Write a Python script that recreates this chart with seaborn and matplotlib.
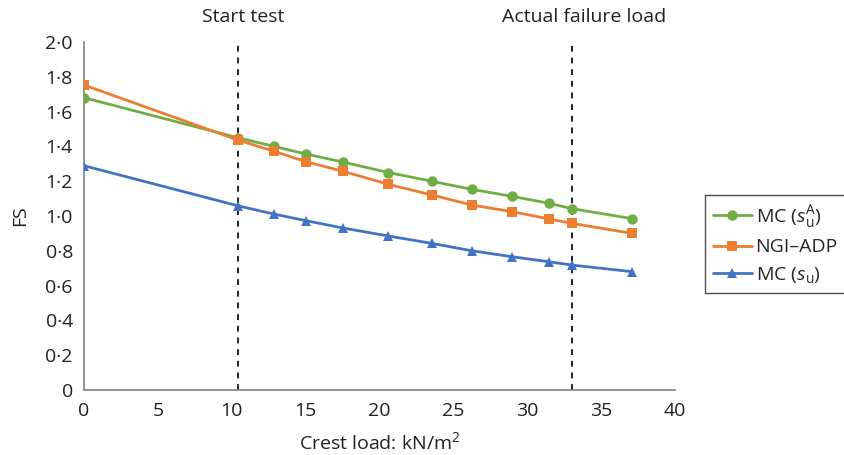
import matplotlib
matplotlib.use("Agg")
import matplotlib.pyplot as plt
import matplotlib.ticker as mticker
import pandas as pd
import seaborn as sns

# Crest load steps (kN/m2) and computed factors of safety
crest_load = [0, 10.4, 12.86, 15.03, 17.53, 20.6, 23.53, 26.26, 28.97, 31.47, 33.03, 37.09]
fs_mc_sua = [1.68, 1.45, 1.40, 1.356, 1.31, 1.25, 1.20, 1.153, 1.113, 1.073, 1.042, 0.985]
fs_ngi_adp = [1.753, 1.437, 1.372, 1.312, 1.257, 1.182, 1.121, 1.063, 1.025, 0.983, 0.958, 0.90]
fs_mc_su = [1.289, 1.059, 1.011, 0.973, 0.931, 0.885, 0.843, 0.80, 0.766, 0.737, 0.718, 0.68]

series_labels = [r"MC ($s_\mathregular{u}^\mathregular{A}$)", "NGI\u2013ADP", r"MC ($s_\mathregular{u}$)"]
series_colors = ["#70AD47", "#ED7D31", "#4472C4"]
series_markers = ["o", "s", "^"]

marker_lines = [10.4, 33.03]
marker_texts = ["Start test", "Actual failure load"]

x_ticks = [0, 5, 10, 15, 20, 25, 30, 35, 40]
y_ticks = [0, 0.2, 0.4, 0.6, 0.8, 1.0, 1.2, 1.4, 1.6, 1.8, 2.0]

sns.set_style("white")
plt.rcParams["font.family"] = ["Open Sans", "DejaVu Sans"]
plt.rcParams["mathtext.fontset"] = "custom"
plt.rcParams["mathtext.rm"] = "Open Sans"
plt.rcParams["mathtext.it"] = "Open Sans:italic"

df = pd.concat([
    pd.DataFrame({"load": crest_load, "fs": vals, "series": lab})
    for vals, lab in zip([fs_mc_sua, fs_ngi_adp, fs_mc_su], series_labels)
])

fig = plt.figure(figsize=(8.45, 4.55), dpi=100)
ax = fig.add_axes([84 / 845, 1 - 390 / 455, (675 - 84) / 845, (390 - 42) / 455])

for lab, col, mk in zip(series_labels, series_colors, series_markers):
    sub = df[df["series"] == lab]
    sns.lineplot(data=sub, x="load", y="fs", ax=ax, color=col, marker=mk,
                 markersize=7.5, markeredgewidth=0, linewidth=2, label=lab, zorder=3)

for xv in marker_lines:
    ax.axvline(xv, color="#222222", linestyle=(0, (3, 3)), linewidth=1.4, zorder=2)

text_x = [marker_lines[0] + 0.4, marker_lines[1] + 0.8]
for tx, txt in zip(text_x, marker_texts):
    ax.text(tx, 1.045, txt, transform=ax.get_xaxis_transform(),
            ha="center", va="bottom", fontsize=14, color="#222222")

ax.set_xlim(0, 40)
ax.set_ylim(0, 2.0)
ax.set_xticks(x_ticks)
ax.set_yticks(y_ticks)
ax.yaxis.set_major_formatter(mticker.FuncFormatter(
    lambda v, p: "0" if abs(v) < 1e-9 else f"{v:.1f}".replace(".", "\u00b7")))
ax.tick_params(axis="y", labelsize=14, colors="#222222", length=0, pad=8)
ax.tick_params(axis="x", labelsize=14, colors="#222222", length=0, pad=9)

for side in ["top", "right"]:
    ax.spines[side].set_visible(False)
for side in ["left", "bottom"]:
    ax.spines[side].set_color("#808080")
    ax.spines[side].set_linewidth(1.2)

ax.set_xlabel("Crest load: kN/m$^\\mathregular{2}$", fontsize=14, color="#222222", labelpad=8)
ax.set_ylabel("FS", fontsize=14, color="#222222", labelpad=12)

leg = ax.legend(loc="upper left", bbox_to_anchor=(705 / 845, 1 - 195 / 455),
                bbox_transform=fig.transFigure, frameon=True, fancybox=False,
                fontsize=14, handlelength=2.0, handletextpad=0.2,
                labelspacing=0.45, borderpad=0.4, borderaxespad=0)
leg.get_frame().set_edgecolor("#222222")
leg.get_frame().set_linewidth(1.0)

fig.savefig("out.png", dpi=100)
